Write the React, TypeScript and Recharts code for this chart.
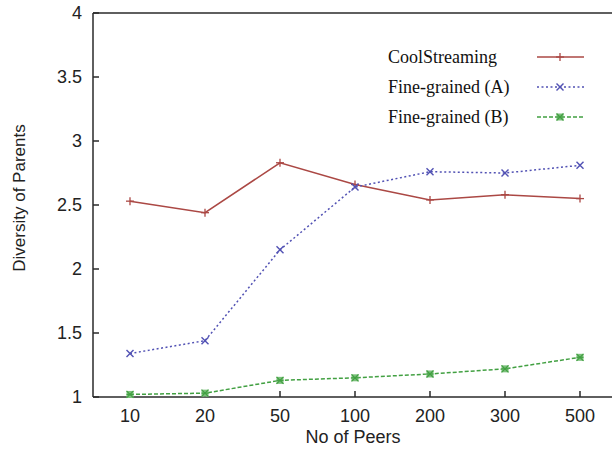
import React from 'react';
import { LineChart, Line, XAxis, YAxis, Legend } from 'recharts';

const peers = ['10', '20', '50', '100', '200', '300', '500'];
const coolStreaming = [2.53, 2.44, 2.83, 2.66, 2.54, 2.58, 2.55];
const fineGrainedA = [1.34, 1.44, 2.15, 2.64, 2.76, 2.75, 2.81];
const fineGrainedB = [1.02, 1.03, 1.13, 1.15, 1.18, 1.22, 1.31];
const yTicks = [1, 1.5, 2, 2.5, 3, 3.5, 4];
const seriesNames = ['CoolStreaming', 'Fine-grained (A)', 'Fine-grained (B)'];

const data = peers.map((p, i) => ({
  peers: p,
  cool: coolStreaming[i],
  a: fineGrainedA[i],
  b: fineGrainedB[i],
}));

const RED = '#ab4844';
const BLUE = '#5252b4';
const GREEN = '#42a042';
const AXIS = '#2a2a2a';
const SANS = '"Liberation Sans", Arial, sans-serif';
const SERIF = '"Liberation Serif", "Times New Roman", serif';

const drawMarker = (kind: string, cx: number, cy: number, color: string, key?: any) => {
  if (kind === 'cool') {
    return (
      <g key={key}>
        <line x1={cx - 4} x2={cx + 4} y1={cy} y2={cy} stroke={color} strokeWidth={1.3} />
        <line x1={cx} x2={cx} y1={cy - 4} y2={cy + 4} stroke={color} strokeWidth={1.3} />
      </g>
    );
  }
  if (kind === 'a') {
    return (
      <g key={key}>
        <line x1={cx - 3.5} x2={cx + 3.5} y1={cy - 3.5} y2={cy + 3.5} stroke={color} strokeWidth={1.4} />
        <line x1={cx - 3.5} x2={cx + 3.5} y1={cy + 3.5} y2={cy - 3.5} stroke={color} strokeWidth={1.4} />
      </g>
    );
  }
  return (
    <g key={key}>
      <rect x={cx - 3.5} y={cy - 3.5} width={7} height={7} fill="#7cc07c" stroke="none" />
      <line x1={cx - 3.5} x2={cx + 3.5} y1={cy - 3.5} y2={cy + 3.5} stroke={color} strokeWidth={1.2} />
      <line x1={cx - 3.5} x2={cx + 3.5} y1={cy + 3.5} y2={cy - 3.5} stroke={color} strokeWidth={1.2} />
      <line x1={cx - 3.5} x2={cx + 3.5} y1={cy} y2={cy} stroke={color} strokeWidth={1.2} />
    </g>
  );
};

const seriesStyle: Record<string, { color: string; dash?: string }> = {
  cool: { color: RED },
  a: { color: BLUE, dash: '2 2.5' },
  b: { color: GREEN, dash: '4 2' },
};

const LegendContent = (props: any) => {
  const payload = props.payload || [];
  return (
    <svg width={612} height={140} style={{ display: 'block' }}>
      {payload.map((e: any, i: number) => {
        const key = e.dataKey;
        const st = seriesStyle[key] || { color: e.color };
        const y = 57 + i * 30;
        return (
          <g key={key}>
            <text x={388} y={y + 6} fontFamily={SERIF} fontSize={18} fill="#111">
              {e.value}
            </text>
            <line x1={537} x2={584} y1={y} y2={y} stroke={st.color} strokeWidth={1.5} strokeDasharray={st.dash} />
            {drawMarker(key, 560, y, st.color)}
          </g>
        );
      })}
    </svg>
  );
};

const XLabel = (props: any) => {
  const vb = props.viewBox || {};
  return (
    <text x={vb.x + vb.width / 2} y={vb.y + 46} textAnchor="middle" fontFamily={SANS} fontSize={18} fill="#222">
      No of Peers
    </text>
  );
};

const YLabel = () => (
  <text x={25} y={198} transform="rotate(-90, 25, 198)" textAnchor="middle" fontFamily={SANS} fontSize={17} fill="#222">
    Diversity of Parents
  </text>
);

export default function App() {
  return (
    <div style={{ position: 'absolute', left: 0, top: 0, width: 612, height: 453, overflow: 'hidden', background: '#fff' }}>
      <LineChart width={614} height={453} data={data} margin={{ top: 12, right: 0, bottom: 16, left: 13 }}>
        <XAxis
          dataKey="peers"
          scale="point"
          padding={{ left: 37, right: 33 }}
          height={40}
          stroke={AXIS}
          strokeWidth={1.5}
          tickSize={-6}
          tickMargin={18}
          tick={{ fontSize: 18, fill: '#222', fontFamily: SANS }}
          label={<XLabel />}
        />
        <XAxis
          xAxisId="top"
          orientation="top"
          dataKey="peers"
          scale="point"
          padding={{ left: 37, right: 33 }}
          height={1}
          stroke={AXIS}
          strokeWidth={1.5}
          tickSize={-6}
          tick={false}
        />
        <YAxis
          domain={[1, 4]}
          ticks={yTicks}
          width={80}
          stroke={AXIS}
          strokeWidth={1.5}
          tickSize={-6}
          tickMargin={17}
          tick={{ fontSize: 18, fill: '#222', fontFamily: SANS }}
          label={<YLabel />}
        />
        <YAxis
          yAxisId="right"
          orientation="right"
          domain={[1, 4]}
          ticks={yTicks}
          width={1}
          stroke={AXIS}
          strokeWidth={1.5}
          tickSize={-6}
          tick={false}
        />
        <Legend
          layout="vertical"
          align="center"
          verticalAlign="middle"
          wrapperStyle={{ position: 'absolute', left: 0, top: 0, width: 612, height: 140 }}
          content={<LegendContent />}
        />
        <Line
          dataKey="cool"
          name={seriesNames[0]}
          stroke={RED}
          strokeWidth={1.5}
          isAnimationActive={false}
          dot={(p: any) => drawMarker('cool', p.cx, p.cy, RED, p.index)}
        />
        <Line
          dataKey="a"
          name={seriesNames[1]}
          stroke={BLUE}
          strokeWidth={1.5}
          strokeDasharray="2 2.5"
          isAnimationActive={false}
          dot={(p: any) => drawMarker('a', p.cx, p.cy, BLUE, p.index)}
        />
        <Line
          dataKey="b"
          name={seriesNames[2]}
          stroke={GREEN}
          strokeWidth={1.5}
          strokeDasharray="4 2"
          isAnimationActive={false}
          dot={(p: any) => drawMarker('b', p.cx, p.cy, GREEN, p.index)}
        />
      </LineChart>
    </div>
  );
}
